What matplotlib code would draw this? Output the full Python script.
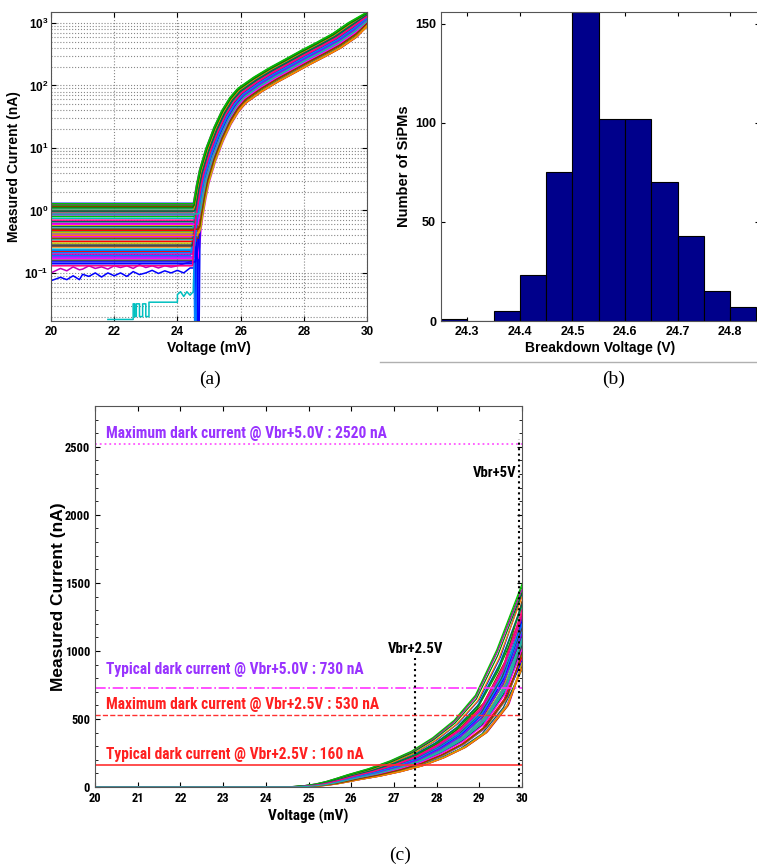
import matplotlib
matplotlib.use("Agg")
import matplotlib.pyplot as plt
from matplotlib import font_manager
from matplotlib.font_manager import FontProperties
from matplotlib.lines import Line2D
from matplotlib.ticker import MultipleLocator, FixedLocator

# ------------------------------------------------------------
# fonts
# ------------------------------------------------------------
SANS = "Liberation Sans"
SERIF = "Liberation Serif"
plt.rcParams["font.family"] = [SANS, "DejaVu Sans"]
plt.rcParams["mathtext.fontset"] = "custom"
plt.rcParams["mathtext.rm"] = SANS + ":bold"
plt.rcParams["mathtext.bf"] = SANS + ":bold"


def pick_narrow():
    # look for a bold condensed face (Calibri-like look of panel c)
    bold = (600, 700, 800, "bold", "semibold", "demibold", "heavy")
    found = []
    for f in font_manager.fontManager.ttflist:
        cond = ("Narrow" in f.name or "Condensed" in f.name
                or f.stretch in ("condensed", "semi-condensed", "extra-condensed", 75, 87))
        if cond and f.weight in bold and "Oblique" not in f.fname and "Italic" not in f.fname:
            found.append(f)
    order = ["Liberation Sans Narrow", "Roboto Condensed", "Open Sans Condensed"]
    found.sort(key=lambda f: order.index(f.name) if f.name in order else 9)
    if found:
        return found[0].fname
    return None


narrow_file = pick_narrow()


def narrow(size):
    if narrow_file:
        return FontProperties(fname=narrow_file, size=size)
    return FontProperties(family=SANS, weight="bold", size=size * 0.84)


# ------------------------------------------------------------
# data : I-V sweeps (panels a and c)
# ------------------------------------------------------------
v_nodes = [20.0, 21.0, 22.0, 23.0, 24.0, 24.45, 24.5, 24.55, 24.6, 24.7, 24.8,
           25.0, 25.25, 25.5, 25.75, 26.0, 26.5, 27.0, 27.5, 28.0, 28.5, 29.0,
           29.5, 30.0]
i_typical = [0, 0, 0, 0, 0, 0.1, 0.3, 0.6, 0.9, 1.8, 3.2,
             7.0, 15, 28, 45, 63, 95, 135, 185, 255, 345, 475,
             710, 1050]

plateau_nA = [1.30, 0.45, 0.22, 1.05, 0.62, 0.30, 0.16, 1.20, 0.38, 0.85, 0.26, 0.55,
              0.19, 1.15, 0.70, 0.34, 0.14, 0.95, 0.48, 0.24, 1.25, 0.58, 0.28, 0.80,
              0.17, 0.42, 1.00, 0.66, 0.21, 0.36, 0.90, 0.52, 0.15, 1.10, 0.32, 0.75,
              0.20, 0.44, 0.27, 1.28, 0.60, 0.18, 0.40, 0.98, 0.23, 0.50, 0.13, 0.88]
gain = [1.35, 0.95, 1.10, 1.25, 0.85, 1.00, 1.18, 1.40, 0.90, 1.05, 1.22, 0.82,
        1.12, 1.30, 0.97, 1.08, 0.88, 1.20, 1.02, 1.15, 1.38, 0.93, 1.06, 1.27,
        0.86, 1.13, 1.33, 0.99, 1.09, 0.84, 1.24, 1.01, 1.16, 1.36, 0.91, 1.04,
        1.19, 0.87, 1.11, 1.42, 0.96, 1.07, 0.83, 1.28, 1.14, 0.94, 1.21, 1.03]
knee_shift = [0.00, 0.05, 0.10, -0.05, 0.15, 0.02, 0.08, -0.08, 0.12, 0.04, 0.18, 0.06,
              -0.03, 0.10, 0.01, 0.14, 0.07, -0.06, 0.11, 0.03, -0.10, 0.16, 0.05, 0.00,
              0.20, 0.09, -0.04, 0.13, 0.02, 0.17, 0.06, -0.02, 0.12, -0.07, 0.08, 0.15,
              0.04, 0.19, 0.01, -0.09, 0.10, 0.05, 0.14, -0.01, 0.07, 0.16, 0.03, 0.11]
dip_curves = [16, 9, 28, 32]
dip_node = 7

# noisy low-current devices
low_v = [20.0, 20.3, 20.5, 20.7, 20.9, 21.0, 21.2, 21.4, 21.6, 21.8, 22.0, 22.2,
         22.4, 22.6, 22.8, 23.0, 23.2, 23.4, 23.6, 23.8, 24.0, 24.2, 24.4]
low_blue = [0.075, 0.085, 0.078, 0.09, 0.078, 0.095, 0.088, 0.1, 0.086, 0.1, 0.09, 0.1,
            0.088, 0.105, 0.094, 0.1, 0.11, 0.098, 0.108, 0.1, 0.11, 0.1, 0.12]
low_magenta = [0.1, 0.118, 0.108, 0.125, 0.112, 0.115, 0.13, 0.118, 0.125, 0.115, 0.13, 0.122,
               0.13, 0.118, 0.135, 0.122, 0.13, 0.12, 0.13, 0.124, 0.13, 0.14, 0.15]
cyan_v = [21.8, 22.6, 22.6, 22.65, 22.65, 22.7, 22.7, 22.8, 22.8, 22.9, 22.9, 23.0,
          23.0, 23.1, 23.1, 24.0, 24.0, 24.1, 24.2, 24.3, 24.4, 24.5]
cyan_i = [0.018, 0.018, 0.032, 0.032, 0.02, 0.02, 0.032, 0.032, 0.02, 0.02, 0.032, 0.032,
          0.02, 0.02, 0.034, 0.034, 0.045, 0.05, 0.042, 0.05, 0.044, 0.05]

colors = ["#0000ff", "#008000", "#ff0000", "#00bfbf", "#bf00bf", "#bfbf00", "#404040",
          "#00c000", "#ff00ff", "#8000ff", "#ff8000", "#006060", "#0080ff", "#804000",
          "#ff0080", "#20b2aa"]

# ------------------------------------------------------------
# data : breakdown voltage histogram (panel b)
# ------------------------------------------------------------
bin_left = [24.25, 24.30, 24.35, 24.40, 24.45, 24.50, 24.55, 24.60, 24.65, 24.70, 24.75, 24.80]
n_sipm = [1, 0, 5, 23, 75, 156, 102, 102, 70, 43, 15, 7]
bin_w = 0.05

# ------------------------------------------------------------
# data : limits (panel c)
# ------------------------------------------------------------
lim_vals = [2520, 730, 530, 160]
lim_text = ["Maximum dark current @ Vbr+5.0V : 2520 nA",
            "Typical dark current @ Vbr+5.0V : 730 nA",
            "Maximum dark current @ Vbr+2.5V : 530 nA",
            "Typical dark current @ Vbr+2.5V : 160 nA"]
lim_text_y = [2600, 865, 605, 240]
vbr_marks = [27.5, 29.93]
vbr_tops = [950, 2560]
vbr_labels = ["Vbr+2.5V", "Vbr+5V"]
vbr_label_pos = [(27.5, 1015), (29.37, 2310)]


def iv_curve(k):
    v = [v_nodes[0]] + [x + knee_shift[k] for x in v_nodes[1:-1]] + [v_nodes[-1]]
    cur = [max(plateau_nA[k], gain[k] * i) for i in i_typical]
    if k in dip_curves:
        cur[dip_node] = 1e-3
    return v, cur


def noisy_curve(vp, ip, g, dv):
    start = next(j for j, x in enumerate(v_nodes) if x > vp[-1] + 0.01)
    v = list(vp) + [x + dv for x in v_nodes[start:-1]] + [v_nodes[-1]]
    cur = list(ip) + [max(ip[-1], g * i) for i in i_typical[start:]]
    return v, cur


curves = [iv_curve(k) for k in range(len(plateau_nA))]
extra = [(noisy_curve(low_v, low_blue, 0.9, 0.12), "#0000ff"),
         (noisy_curve(low_v, low_magenta, 1.0, 0.08), "#bf00bf"),
         (noisy_curve(cyan_v, cyan_i, 1.1, 0.02), "#00bfbf")]

fig = plt.figure(figsize=(7.57, 8.67), dpi=100)
W, H = 757.0, 867.0

# ------------------------------------------------------------
# (a) log-scale I-V
# ------------------------------------------------------------
ax = fig.add_axes([51 / W, 1 - 321 / H, 316 / W, 309 / H])
for (v, c), col in extra:
    ax.plot(v, c, color=col, lw=1.1)
for k, (v, c) in enumerate(curves):
    ax.plot(v, c, color=colors[k % len(colors)], lw=1.1)
ax.set_yscale("log")
ax.set_xlim(20, 30)
ax.set_ylim(0.017, 1500)
ax.xaxis.set_major_locator(MultipleLocator(2))
ax.grid(True, which="both", linestyle=":", color="#888888", linewidth=0.8)
ax.tick_params(which="both", direction="in", top=True, right=True, labelsize=8.5)
ax.tick_params(which="minor", length=0)
ax.tick_params(axis="y", pad=2)
for lab in ax.get_xticklabels() + ax.get_yticklabels():
    lab.set_fontweight("bold")
ax.set_xlabel("Voltage (mV)", fontsize=10, fontweight="bold", labelpad=2)
ax.set_ylabel("Measured Current (nA)", fontsize=10, fontweight="bold", labelpad=2)
for s in ax.spines.values():
    s.set_color("#555555")

# ------------------------------------------------------------
# (b) histogram
# ------------------------------------------------------------
bx = fig.add_axes([441 / W, 1 - 321 / H, 318 / W, 309 / H])
bx.bar(bin_left, n_sipm, width=bin_w, align="edge", color="#00008b",
       edgecolor="black", linewidth=0.8)
bx.set_xlim(24.25, 24.855)
bx.set_ylim(0, 156)
bx.xaxis.set_major_locator(FixedLocator([24.3, 24.4, 24.5, 24.6, 24.7, 24.8]))
bx.yaxis.set_major_locator(FixedLocator([0, 50, 100, 150]))
bx.tick_params(direction="in", top=True, right=True, labelsize=9, length=3)
for lab in bx.get_xticklabels() + bx.get_yticklabels():
    lab.set_fontweight("bold")
bx.set_xlabel("Breakdown Voltage (V)", fontsize=10, fontweight="bold", labelpad=2)
bx.set_ylabel("Number of SiPMs", fontsize=10.5, fontweight="bold", labelpad=3)
for s in bx.spines.values():
    s.set_color("#555555")

fig.add_artist(Line2D([380 / W, 1.0], [1 - 362 / H, 1 - 362 / H], color="#b0b0b0", lw=1))

# ------------------------------------------------------------
# (c) linear-scale I-V with limits
# ------------------------------------------------------------
cx = fig.add_axes([95 / W, 1 - 787 / H, 427 / W, 381 / H])
for (v, c), col in extra:
    cx.plot(v, c, color=col, lw=0.9)
for k, (v, c) in enumerate(curves):
    cx.plot(v, c, color=colors[k % len(colors)], lw=0.9)

lim_styles = [(":", "#ff55ff", 1.3), ("-.", "#ff33ff", 1.2),
              ("--", "#ff3030", 1.0), ("-", "#ff3030", 1.2)]
lim_colors = ["#9933ff", "#9933ff", "#ff2020", "#ff2020"]
for val, (ls, col, lw) in zip(lim_vals, lim_styles):
    cx.axhline(val, linestyle=ls, color=col, lw=lw)
notes = []
for txt, y, col in zip(lim_text, lim_text_y, lim_colors):
    notes.append(cx.text(20.25, y, txt, color=col, fontproperties=narrow(11),
                         va="center", ha="left"))
for xm, top in zip(vbr_marks, vbr_tops):
    cx.plot([xm, xm], [0, top], linestyle=":", color="black", lw=1.5)
for lab, (x, y) in zip(vbr_labels, vbr_label_pos):
    notes.append(cx.text(x, y, lab, color="black", fontproperties=narrow(10.5),
                         ha="center", va="center"))

cx.set_xlim(20, 30)
cx.set_ylim(0, 2800)
cx.xaxis.set_major_locator(MultipleLocator(1))
cx.yaxis.set_major_locator(MultipleLocator(500))
cx.yaxis.set_minor_locator(MultipleLocator(100))
cx.tick_params(which="both", direction="in", top=True, right=True)
cx.tick_params(which="minor", length=2)
for lab in cx.get_xticklabels() + cx.get_yticklabels():
    lab.set_fontproperties(narrow(9))
cx.set_xlabel("Voltage (mV)", fontproperties=narrow(11), labelpad=3)
cx.set_ylabel("Measured Current (nA)", fontsize=12.5, fontweight="bold", labelpad=-1)
for s in cx.spines.values():
    s.set_color("#555555")

# size the notes so the first one spans about as much as in the original
fig.canvas.draw()
ratio = 280.0 / notes[0].get_window_extent().width
for t in notes:
    t.set_fontsize(t.get_fontsize() * ratio)

# panel tags
fig.text(210 / W, 1 - 379 / H, "(a)", family=SERIF, fontsize=14, ha="center", va="center")
fig.text(614 / W, 1 - 379 / H, "(b)", family=SERIF, fontsize=14, ha="center", va="center")
fig.text(400 / W, 1 - 855 / H, "(c)", family=SERIF, fontsize=14, ha="center", va="center")

fig.savefig("out.png", dpi=100)
